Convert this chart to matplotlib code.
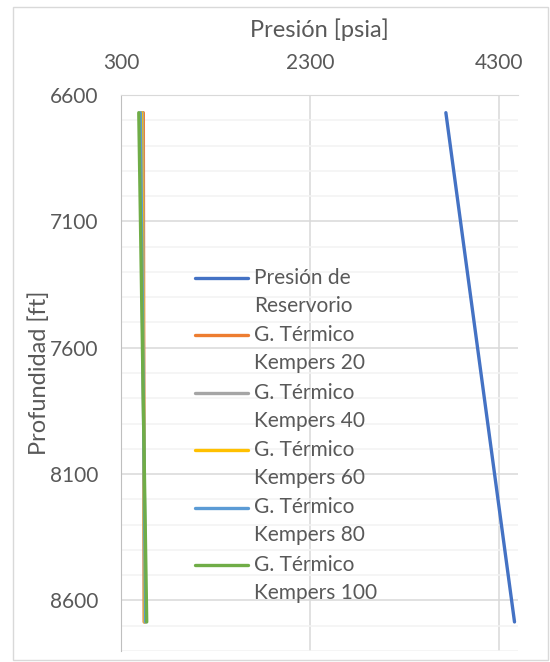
import numpy as np
from matplotlib import pyplot as plt
from matplotlib.patches import Rectangle
from matplotlib.legend_handler import HandlerLine2D

# Datos: presion [psia] vs profundidad [ft]
profundidad = [6670, 8685]
p_reservorio = [3736, 4462]
kempers_20 = [536, 545]
kempers_40 = [526, 550]
kempers_60 = [516, 555]
kempers_80 = [505, 561]
kempers_100 = [488, 572]

series = [
    ("Presión de\nReservorio", p_reservorio, "#4472C4"),
    ("G. Térmico\nKempers 20", kempers_20, "#ED7D31"),
    ("G. Térmico\nKempers 40", kempers_40, "#A5A5A5"),
    ("G. Térmico\nKempers 60", kempers_60, "#FFC000"),
    ("G. Térmico\nKempers 80", kempers_80, "#5B9BD5"),
    ("G. Térmico\nKempers 100", kempers_100, "#70AD47"),
]

gris = "#595959"
plt.rcParams['font.family'] = ['Lato', 'DejaVu Sans']


class LineaArriba(HandlerLine2D):
    """ Pone la linea de la leyenda a la altura de la primera linea de texto """
    def create_artists(self, legend, orig_handle, xdescent, ydescent,
                       width, height, fontsize, trans):
        artistas = super().create_artists(legend, orig_handle, xdescent, ydescent,
                                          width, height, fontsize, trans)
        for a in artistas:
            a.set_ydata(np.asarray(a.get_ydata()) + 0.7 * fontsize)
        return artistas


fig = plt.figure(figsize=(5.5, 6.62), dpi=100)
fig.patches.append(Rectangle((0.024, 0.003), 0.972, 0.986, transform=fig.transFigure,
                             fill=False, edgecolor="#d9d9d9", linewidth=1))
ax = fig.add_axes([0.22, 0.0166, 0.722, 0.8399])

for nombre, valores, color in series:
    ax.plot(valores, profundidad, color=color, linewidth=2.4, label=nombre,
            solid_capstyle="round")

ax.set_xlim(300, 4500)
ax.set_ylim(8800, 6600)
ax.xaxis.tick_top()
ax.xaxis.set_label_position("top")
ax.set_xticks([300, 2300, 4300])
ax.set_yticks(np.arange(6600, 8601, 500))
ax.set_yticks(np.arange(6600, 8801, 100), minor=True)
ax.grid(True, which="major", color="#d9d9d9", linewidth=1.1)
ax.grid(True, which="minor", axis="y", color="#f2f2f2", linewidth=1.1)
ax.set_axisbelow(True)
ax.tick_params(which="both", length=0, labelsize=15, labelcolor=gris, pad=16)

for lado in ["right", "bottom"]:
    ax.spines[lado].set_visible(False)
ax.spines["left"].set_color("#bfbfbf")
ax.spines["top"].set_color("#d9d9d9")

ax.set_xlabel("Presión [psia]", fontsize=17, color=gris, labelpad=11)
ax.set_ylabel("Profundidad [ft]", fontsize=17, color=gris, labelpad=0)

ley = ax.legend(loc="upper left", bbox_to_anchor=(0.186, 0.689), frameon=False,
                fontsize=15, labelcolor=gris, handlelength=2.55, handletextpad=0.3,
                labelspacing=0.45, borderpad=0, borderaxespad=0,
                handler_map={plt.Line2D: LineaArriba()})
for t in ley.get_texts():
    t.set_linespacing(1.5)

fig.savefig("out.png", dpi=100)
